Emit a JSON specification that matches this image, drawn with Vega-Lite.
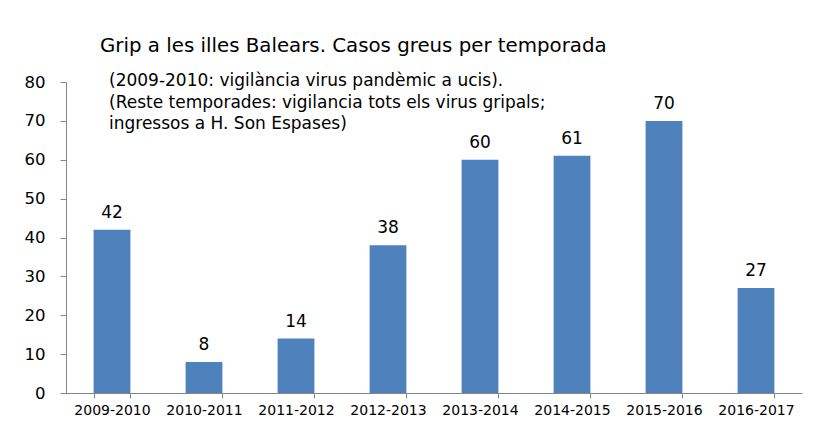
{
  "$schema": "https://vega.github.io/schema/vega-lite/v6.json",
  "width": 736,
  "height": 311,
  "autosize": "none",
  "padding": {"left": 66, "top": 82, "right": 14, "bottom": 31},
  "background": "white",
  "title": {
    "text": "Grip a les illes Balears. Casos greus per temporada",
    "anchor": "start",
    "frame": "group",
    "dx": 34,
    "offset": 16,
    "font": "DejaVu Sans",
    "fontSize": 19.8,
    "fontWeight": "normal",
    "color": "#000000"
  },
  "data": {
    "values": [
      {"temporada": "2009-2010", "casos": 42},
      {"temporada": "2010-2011", "casos": 8},
      {"temporada": "2011-2012", "casos": 14},
      {"temporada": "2012-2013", "casos": 38},
      {"temporada": "2013-2014", "casos": 60},
      {"temporada": "2014-2015", "casos": 61},
      {"temporada": "2015-2016", "casos": 70},
      {"temporada": "2016-2017", "casos": 27}
    ]
  },
  "encoding": {
    "x": {
      "field": "temporada",
      "type": "nominal",
      "sort": null,
      "scale": {"paddingInner": 0.6, "paddingOuter": 0.3},
      "axis": {
        "title": null,
        "labelAngle": 0,
        "labelFont": "DejaVu Sans",
        "labelFontSize": 14,
        "labelColor": "#000000",
        "labelPadding": 5,
        "tickBand": "extent",
        "tickSize": 5,
        "tickColor": "#868686",
        "domainColor": "#868686",
        "grid": false
      }
    },
    "y": {
      "field": "casos",
      "type": "quantitative",
      "scale": {"domain": [0, 80]},
      "axis": {
        "title": null,
        "values": [0, 10, 20, 30, 40, 50, 60, 70, 80],
        "labelFont": "DejaVu Sans",
        "labelFontSize": 16.5,
        "labelColor": "#000000",
        "labelPadding": 15,
        "tickSize": 6,
        "tickColor": "#868686",
        "domainColor": "#868686",
        "grid": false
      }
    }
  },
  "layer": [
    {"mark": {"type": "bar", "color": "#4F81BD"}},
    {
      "mark": {"type": "text", "baseline": "bottom", "dy": -8, "font": "DejaVu Sans", "fontSize": 17, "color": "#000000"},
      "encoding": {"text": {"field": "casos", "type": "quantitative"}}
    },
    {
      "data": {"values": [{"temporada": "2009-2010", "casos": 80}]},
      "mark": {"type": "text", "align": "left", "baseline": "middle", "dx": -3, "dy": -1, "lineHeight": 21.5, "font": "DejaVu Sans", "fontSize": 17, "color": "#000000",
        "text": ["(2009-2010: vigilància virus pandèmic a ucis).", "(Reste temporades: vigilancia tots els virus gripals;", "ingressos a H. Son Espases)"]},
      "encoding": {
        "text": null
      }
    }
  ],
  "config": {"view": {"stroke": null}}
}
